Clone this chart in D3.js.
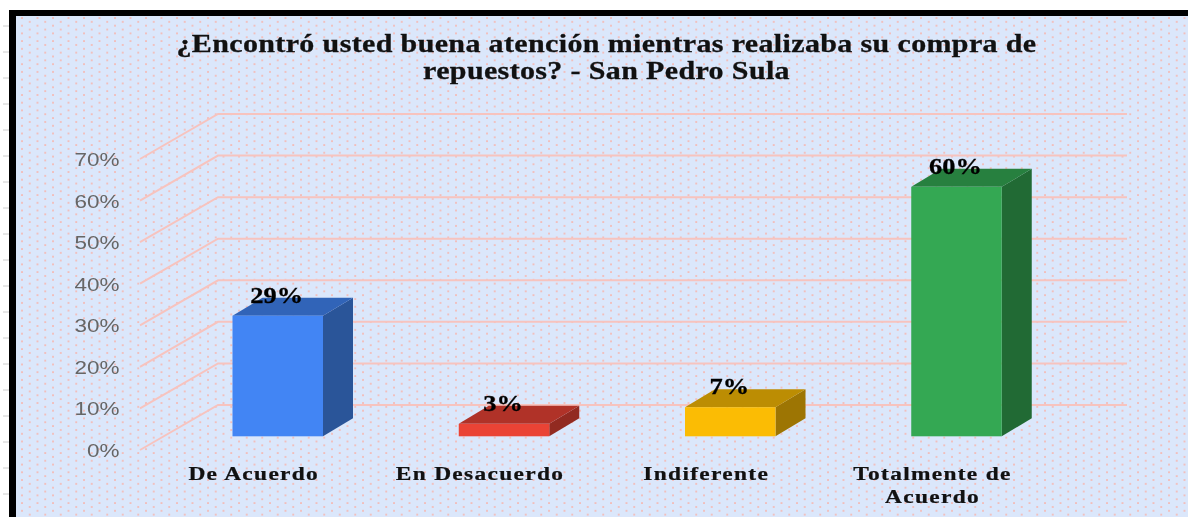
<!DOCTYPE html>
<html><head><meta charset="utf-8">
<script src="https://cdn.jsdelivr.net/npm/d3@7/dist/d3.min.js"></script>
<style>html,body{margin:0;padding:0;background:#fff}svg{display:block;filter:blur(0.5px)}</style>
</head><body><div id="c"></div>
<script>
const categories=["De Acuerdo","En Desacuerdo","Indiferente","Totalmente de Acuerdo"];
const categoryLines=[["De Acuerdo"],["En Desacuerdo"],["Indiferente"],["Totalmente de","Acuerdo"]];
const values=[29,3,7,60];
const frontColors=["#4285f4","#ea4335","#fbbc04","#34a853"];
const topColors=["#3164b8","#b03228","#bc8d03","#27803f"];
const sideColors=["#2a5599","#922a21","#9d7503","#216a34"];
const ticks=[0,10,20,30,40,50,60,70];
const titleLines=["¿Encontró usted buena atención mientras realizaba su compra de","repuestos? - San Pedro Sula"];

const W=1188,H=517;
const svg=d3.select("#c").append("svg").attr("width",W).attr("height",H);
const defs=svg.append("defs");
const pat=defs.append("pattern").attr("id","dots").attr("patternUnits","userSpaceOnUse")
  .attr("width",15.5).attr("height",7.7).attr("x",21).attr("y",17);
pat.append("rect").attr("width",15.5).attr("height",7.7).attr("fill","#dbe7fb");
[[1,1],[8.75,4.85]].forEach(p=>pat.append("rect").attr("x",p[0]-.8).attr("y",p[1]-.8).attr("width",1.6).attr("height",1.6).attr("fill","#fbaea2"));

const marginTicks=d3.range(26,517,26);
svg.selectAll(".mt").data(marginTicks).join("line").attr("x1",3).attr("x2",9).attr("y1",d=>d).attr("y2",d=>d).attr("stroke","#ccc").attr("stroke-width",1);
svg.append("rect").attr("x",9).attr("y",10).attr("width",W-9).attr("height",H-10).attr("fill","#000");
svg.append("rect").attr("x",16).attr("y",16).attr("width",W-16).attr("height",H-16).attr("fill","url(#dots)");

const y=d3.scaleLinear().domain([0,70]).range([405,114]);
const x=d3.scaleBand().domain(categories).range([165,1070]);
const wallX0=218,wallX1=1127,floorDX=-78,floorDY=45;
const barInset=67.5,barW=90.5,depthX=30,depthY=18,barDY=31.3;

const gridG=svg.append("g").attr("fill","none").attr("stroke","#f7c3be").attr("stroke-width",2);
gridG.selectAll("path").data(ticks).join("path")
 .attr("d",d=>`M${wallX0+floorDX},${y(d)+floorDY}L${wallX0},${y(d)}L${wallX1},${y(d)}`);

svg.append("g").selectAll("text").data(ticks).join("text")
 .attr("transform",d=>`translate(119.5,${y(d)+floorDY+7}) scale(1.25,1)`)
 .attr("text-anchor","end").attr("font-family","Liberation Sans").attr("font-size",18).attr("fill","#666")
 .text(d=>d+"%");

const bars=svg.append("g").selectAll("g").data(categories).join("g");
const L=c=>x(c)+barInset, R=c=>L(c)+barW;
const B=y(0)+barDY, T=(i)=>y(values[i])+barDY;
bars.append("path").attr("fill",(d,i)=>sideColors[i])
 .attr("d",(d,i)=>`M${R(d)},${T(i)}L${R(d)+depthX},${T(i)-depthY}L${R(d)+depthX},${B-depthY}L${R(d)},${B}Z`);
bars.append("path").attr("fill",(d,i)=>topColors[i])
 .attr("d",(d,i)=>`M${L(d)},${T(i)}L${L(d)+depthX},${T(i)-depthY}L${R(d)+depthX},${T(i)-depthY}L${R(d)},${T(i)}Z`);
bars.append("rect").attr("fill",(d,i)=>frontColors[i])
 .attr("x",d=>L(d)).attr("y",(d,i)=>T(i)).attr("width",barW).attr("height",(d,i)=>B-T(i));
bars.append("text").attr("text-anchor","middle")
 .attr("transform",(d,i)=>`translate(${L(d)+barW/2-1},${T(i)-13}) scale(1.1,1)`)
 .attr("font-family","Liberation Serif").attr("font-weight","bold").attr("font-size",24).attr("fill","#000")
 .attr("stroke","#000").attr("stroke-width",.3)
 .text((d,i)=>values[i]+"%");

const catG=svg.append("g");
categories.forEach((c,i)=>{
  categoryLines[i].forEach((ln,j)=>{
    catG.append("text").attr("text-anchor","middle")
     .attr("transform",`translate(${x(c)+barInset+barW/2-24},${480+j*23}) scale(1.2,1)`)
     .attr("font-family","Liberation Serif").attr("font-weight","bold").attr("font-size",19.5)
     .attr("letter-spacing",1.1).attr("fill","#111").attr("stroke","#111").attr("stroke-width",.25).text(ln);
  });
});

svg.append("g").selectAll("text").data(titleLines).join("text").attr("text-anchor","middle")
 .attr("transform",(d,i)=>`translate(606.5,${52+i*27}) scale(1.2,1)`)
 .attr("font-family","Liberation Serif").attr("font-weight","bold").attr("font-size",25)
 .attr("letter-spacing",.3).attr("fill","#111").attr("stroke","#111").attr("stroke-width",.3).text(d=>d);
</script></body></html>
